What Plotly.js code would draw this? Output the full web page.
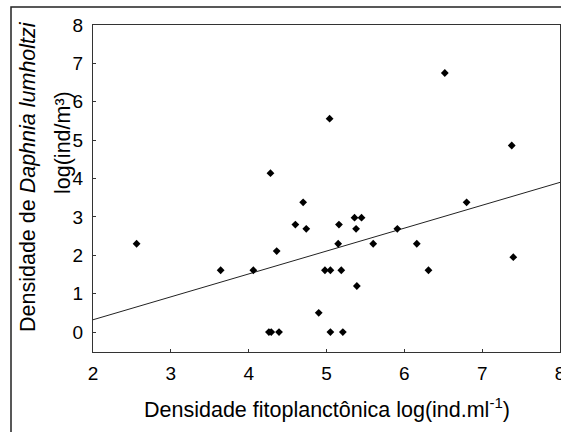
<!DOCTYPE html>
<html>
<head>
<meta charset="utf-8">
<script src="https://cdn.plot.ly/plotly-3.0.1.min.js"></script>
<style>html,body{margin:0;padding:0;background:#fff;}</style>
</head>
<body>
<div id="chart" style="width:561px;height:432px;"></div>
<script>
// Phytoplankton density log(ind/ml)
const phytoDensity = [4.28, 5.04, 6.52, 7.38, 2.56, 3.64, 4.06, 4.36, 4.26, 4.29, 4.39, 4.60, 4.70, 4.74, 4.90, 4.98, 5.05, 5.05, 5.15, 5.16, 5.19, 5.21, 5.36, 5.45, 5.38, 5.39, 5.60, 5.91, 6.16, 6.31, 6.80, 7.40];
// Daphnia lumholtzi density log(ind/m3)
const daphniaDensity = [4.14, 5.56, 6.75, 4.86, 2.30, 1.61, 1.61, 2.11, 0.00, 0.00, 0.00, 2.80, 3.38, 2.69, 0.50, 1.61, 1.61, 0.00, 2.30, 2.80, 1.61, 0.00, 2.98, 2.98, 2.69, 1.20, 2.30, 2.69, 2.30, 1.61, 3.38, 1.95];
// Regression line end points
const fitX = [2, 8];
const fitY = [0.32, 3.90];
const xTicks = [2, 3, 4, 5, 6, 7, 8];
const yTicks = [0, 1, 2, 3, 4, 5, 6, 7, 8];

const font = 'Liberation Sans, Arial, sans-serif';
const tickSize = 19;
const titleSize = 21.5;

const traces = [
  {x: fitX, y: fitY, type: 'scatter', mode: 'lines', line: {color: '#222', width: 1}, hoverinfo: 'skip'},
  {x: phytoDensity, y: daphniaDensity, type: 'scatter', mode: 'markers',
   marker: {symbol: 'diamond', size: 6, color: '#000'}}
];

const layout = {
  width: 561, height: 432,
  margin: {l: 93, r: 1, t: 25, b: 80},
  paper_bgcolor: '#fff', plot_bgcolor: '#fff',
  showlegend: false,
  font: {family: font, size: tickSize, color: '#000'},
  xaxis: {range: [2, 8], tickvals: xTicks, ticks: 'inside', ticklen: 3, tickcolor: '#333',
          showgrid: false, zeroline: false, showline: true, linecolor: '#333', linewidth: 1, mirror: true,
          tickfont: {family: font, size: tickSize, color: '#000'}, ticklabelstandoff: 4,
          ticklabeloverflow: 'allow'},
  yaxis: {range: [-0.52, 8], tickvals: yTicks, ticks: 'inside', ticklen: 3, tickcolor: '#333',
          showgrid: false, zeroline: false, showline: true, linecolor: '#333', linewidth: 1, mirror: true,
          tickfont: {family: font, size: tickSize, color: '#000'}, ticklabelstandoff: 5,
          ticklabeloverflow: 'allow'},
  annotations: [
    {xref: 'paper', yref: 'paper', x: 0.5, y: (352 - 408) / 327, xanchor: 'center', yanchor: 'middle',
     showarrow: false, text: 'Densidade fitoplanctônica log(ind.ml<sup>-1</sup>)', font: {family: font, size: titleSize}},
    {xref: 'paper', yref: 'paper', x: (28 - 93) / 467, y: (352 - 177) / 327, xanchor: 'center', yanchor: 'middle',
     showarrow: false, textangle: -90, text: 'Densidade de <i>Daphnia lumholtzi</i>', font: {family: font, size: titleSize}},
    {xref: 'paper', yref: 'paper', x: (63 - 93) / 467, y: (352 - 143) / 327, xanchor: 'center', yanchor: 'middle',
     showarrow: false, textangle: -90, text: 'log(ind/m³)', font: {family: font, size: titleSize}}
  ],
  shapes: [
    {type: 'rect', xref: 'paper', yref: 'paper', x0: (11 - 93) / 467, x1: 1.2, y0: -0.4, y1: (352 - 7) / 327,
     line: {color: '#222', width: 1.5}, fillcolor: 'rgba(0,0,0,0)', layer: 'below'}
  ]
};

Plotly.newPlot('chart', traces, layout, {displayModeBar: false, staticPlot: true});
</script>
</body>
</html>
